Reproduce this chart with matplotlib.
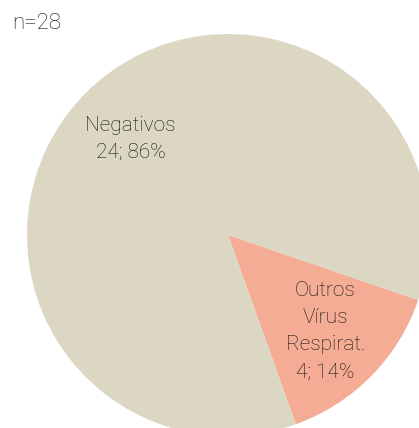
import matplotlib
matplotlib.use("Agg")
import matplotlib.pyplot as plt

# data
labels = ["Outros\nVírus\nRespirat.", "Negativos"]
counts = [4, 24]
colors = ["#F4AD94", "#DCD7C3"]
total = sum(counts)

fig = plt.figure(figsize=(4.19, 4.28), dpi=100)
ax = fig.add_axes([0, 0, 1, 1])

txt = [f"{l}\n{c}; {round(100 * c / total)}%" for l, c in zip(labels, counts)]
wedges, texts = ax.pie(counts, labels=txt, colors=colors, startangle=-70.3,
                       counterclock=True, labeldistance=0.68,
                       wedgeprops=dict(linewidth=0),
                       textprops=dict(fontsize=15, family="Roboto", weight="light",
                                      color="#111111", ha="center", va="center",
                                      linespacing=1.55))
for t in texts:
    t.set_horizontalalignment("center")
    t.set_multialignment("center")

# pie centre / radius in pixels, pie spills past the figure edge
cx, cy, r = 228, 428 - 235, 201
ax.set_aspect("auto")
ax.set_xlim(-cx / r, (419 - cx) / r)
ax.set_ylim(-cy / r, (428 - cy) / r)
ax.axis("off")

fig.text(0.028, 0.945, "n=28", fontsize=16, family="Roboto", weight="light",
         color="#111111", ha="left", va="center")

fig.savefig("out.png", dpi=100)
